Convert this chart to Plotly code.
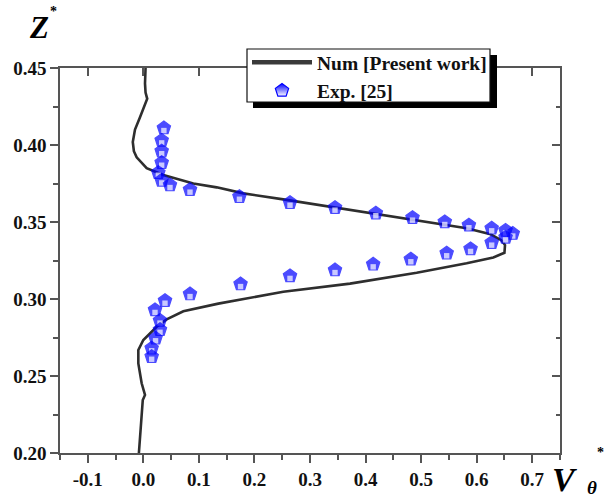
import numpy as np
import plotly.graph_objects as go

# Numerical curve  (V_theta*, Z*)
NUM_X = [0.004, 0.003, 0.004, 0.007, -0.006, -0.015, -0.019, -0.017, -0.012, 0.006,
         0.036, 0.09, 0.132, 0.18, 0.252, 0.30, 0.372, 0.492, 0.582, 0.625,
         0.645, 0.651, 0.650, 0.630, 0.582, 0.492, 0.372, 0.252, 0.135, 0.072,
         0.042, 0.024, 0.0, -0.009, -0.009, -0.003, 0.003, -0.001, -0.003, -0.007, -0.008]
NUM_Y = [0.45, 0.44, 0.434, 0.430, 0.418, 0.410, 0.402, 0.396, 0.392, 0.385,
         0.3805, 0.375, 0.3725, 0.3686, 0.3647, 0.362, 0.3583, 0.3513, 0.346, 0.342,
         0.338, 0.335, 0.330, 0.327, 0.3232, 0.3171, 0.310, 0.3047, 0.297, 0.292,
         0.2868, 0.282, 0.2734, 0.2669, 0.2582, 0.2453, 0.2377, 0.2344, 0.2236, 0.2063, 0.20]

# Experimental points
EXP_X = [0.037, 0.033, 0.033, 0.033, 0.027, 0.033, 0.048, 0.084, 0.173, 0.264,
         0.345, 0.4185, 0.4845, 0.5426, 0.586, 0.627, 0.652, 0.665,
         0.652, 0.627, 0.589, 0.546, 0.4815, 0.4137, 0.345, 0.264, 0.175, 0.084,
         0.039, 0.021, 0.030, 0.030, 0.022, 0.015, 0.015]
EXP_Y = [0.411, 0.403, 0.396, 0.3885, 0.382, 0.377, 0.374, 0.371, 0.3664, 0.3625,
         0.3593, 0.3557, 0.3528, 0.350, 0.3479, 0.3459, 0.3445, 0.3425,
         0.340, 0.3366, 0.3325, 0.3297, 0.3258, 0.3225, 0.3188, 0.315, 0.3097, 0.3032,
         0.2989, 0.2929, 0.286, 0.280, 0.2745, 0.268, 0.2625]

X_TICKS = [-0.1, 0.0, 0.1, 0.2, 0.3, 0.4, 0.5, 0.6, 0.7]
X_TICKTEXT = ["-0.1", "0.0", "0.1", "0.2", "0.3", "0.4", "0.5", "0.6", "0.7"]
Y_TICKS = [0.20, 0.25, 0.30, 0.35, 0.40, 0.45]
Y_TICKTEXT = ["0.20", "0.25", "0.30", "0.35", "0.40", "0.45"]

BLUE = "#0000ff"
FONT = "Liberation Serif"
AXC = "#555555"
LINEC = "#2e2e2e"

fig = go.Figure()

fig.add_trace(go.Scatter(x=NUM_X, y=NUM_Y, mode="lines", showlegend=False,
                         line=dict(color=LINEC, width=2.6)))

# marker: blue pentagon with white lower notch (interleaved per point to keep stacking order)
n = len(EXP_X)
xs = np.repeat(EXP_X, 2)
ys = np.repeat(EXP_Y, 2)
fig.add_trace(go.Scatter(
    x=xs, y=ys, mode="markers", showlegend=False, hoverinfo="skip",
    marker=dict(symbol=["pentagon", "square"] * n,
                size=[14, 5.4] * n,
                color=[BLUE, "white"] * n,
                standoff=[0, 2.5] * n,
                line=dict(color=[BLUE, "white"] * n, width=[1.2, 0] * n))))

# legend entries
fig.add_trace(go.Scatter(x=[None], y=[None], mode="lines", name="Num [Present work]",
                         line=dict(color="#3a3a3a", width=4.5)))
fig.add_trace(go.Scatter(x=[None], y=[None], mode="markers", name="Exp. [25]",
                         marker=dict(symbol="pentagon", size=14, color=BLUE,
                                     gradient=dict(type="vertical", color="white"),
                                     line=dict(color=BLUE, width=1.2))))

# dummy trace to realise the mirrored axes
fig.add_trace(go.Scatter(x=[], y=[], xaxis="x2", yaxis="y2", showlegend=False, hoverinfo="skip"))

tickfont = dict(family=FONT, size=19, color="#111111", weight="bold")

def px_x(p):
    return (p - 60) / 500

def px_y(p):
    return (453 - p) / 385

fig.update_layout(
    width=605, height=502,
    margin=dict(l=60, r=45, t=68, b=49),
    paper_bgcolor="white", plot_bgcolor="white",
    xaxis=dict(range=[-0.15, 0.75], tickmode="array", tickvals=X_TICKS, ticktext=X_TICKTEXT,
               ticks="outside", ticklen=8, tickwidth=1.5, tickcolor=AXC,
               minor=dict(tickmode="linear", tick0=-0.15, dtick=0.05, ticks="outside",
                          ticklen=5, tickwidth=1.5, tickcolor=AXC),
               showline=True, linecolor=AXC, linewidth=1.5, showgrid=False, zeroline=False,
               tickfont=tickfont),
    yaxis=dict(range=[0.2, 0.45], tickmode="array", tickvals=Y_TICKS, ticktext=Y_TICKTEXT,
               ticks="outside", ticklen=8, tickwidth=1.5, tickcolor=AXC,
               minor=dict(tickmode="linear", tick0=0.2, dtick=0.025, ticks="outside",
                          ticklen=5, tickwidth=1.5, tickcolor=AXC),
               showline=True, linecolor=AXC, linewidth=1.5, showgrid=False, zeroline=False,
               tickfont=tickfont),
    xaxis2=dict(overlaying="x", side="top", anchor="y", range=[-0.15, 0.75],
                tickmode="array", tickvals=X_TICKS, ticks="inside", ticklen=8, tickwidth=1.5,
                tickcolor=AXC, showticklabels=False, showline=True, linecolor=AXC,
                linewidth=1.5, showgrid=False, zeroline=False),
    yaxis2=dict(overlaying="y", side="right", anchor="x", range=[0.2, 0.45],
                tickmode="array", tickvals=Y_TICKS, ticks="inside", ticklen=8, tickwidth=1.5,
                tickcolor=AXC, showticklabels=False, showline=True, linecolor=AXC,
                linewidth=1.5, showgrid=False, zeroline=False,
                minor=dict(tickmode="linear", tick0=0.2, dtick=0.025, ticks="inside",
                           ticklen=4, tickwidth=1.5, tickcolor=AXC)),
    legend=dict(x=px_x(247), y=px_y(43), xanchor="left", yanchor="top",
                bgcolor="rgba(0,0,0,0)", borderwidth=0,
                font=dict(family=FONT, size=19.5, color="#111111", weight="bold"),
                itemwidth=60, tracegroupgap=0),
    shapes=[
        # legend drop shadow and frame
        dict(type="rect", xref="paper", yref="paper",
             x0=px_x(253), x1=px_x(497), y0=px_y(108), y1=px_y(55),
             fillcolor="black", line=dict(width=0), layer="above"),
        dict(type="rect", xref="paper", yref="paper",
             x0=px_x(247), x1=px_x(490), y0=px_y(102), y1=px_y(49),
             fillcolor="white", line=dict(color="#111111", width=1.2), layer="above"),
    ],
    annotations=[
        dict(text="<b><i>Z</i></b>", xref="paper", yref="paper", x=px_x(39),
             y=px_y(28), showarrow=False, xanchor="center", yanchor="middle",
             font=dict(family=FONT, size=31, color="black")),
        dict(text="<b>*</b>", xref="paper", yref="paper", x=px_x(53),
             y=px_y(12), showarrow=False, xanchor="center", yanchor="middle",
             font=dict(family=FONT, size=14, color="black")),
        dict(text="<b><i>V</i></b>", xref="paper", yref="paper", x=px_x(564),
             y=px_y(479), showarrow=False, xanchor="center", yanchor="middle",
             font=dict(family=FONT, size=34, color="black")),
        dict(text="<b><i>θ</i></b>", xref="paper", yref="paper", x=px_x(592),
             y=px_y(488), showarrow=False, xanchor="center", yanchor="middle",
             font=dict(family=FONT, size=19, color="black")),
        dict(text="<b>*</b>", xref="paper", yref="paper", x=px_x(600),
             y=px_y(452), showarrow=False, xanchor="center", yanchor="middle",
             font=dict(family=FONT, size=14, color="black")),
    ],
)

fig.write_html("out.html")
